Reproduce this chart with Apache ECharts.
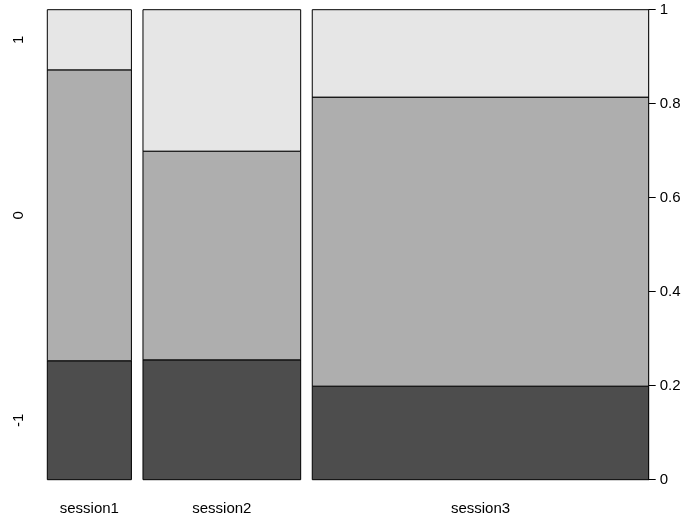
<!DOCTYPE html>
<html>
<head>
<meta charset="utf-8">
<title>Spineplot by session</title>
<script src="https://cdn.jsdelivr.net/npm/echarts@6/dist/echarts.min.js"></script>
<style>
  html, body { margin: 0; padding: 0; background: #fff; }
  #chart { width: 691px; height: 519px; }
</style>
</head>
<body>
<div id="chart"></div>
<script>
// Sessions on the x axis, response levels stacked inside each spine
const categories = ['session1', 'session2', 'session3'];
const levels = ['-1', '0', '1'];
// Observations per session (sets each spine's width)
const sessionCounts = [8, 15, 32];
// Conditional share of each level within a session
const shareMinus1 = [0.253, 0.255, 0.199];
const shareZero   = [0.619, 0.444, 0.615];
const shareOne    = [0.128, 0.301, 0.186];
// Right-hand proportion axis ticks
const yTicks = [0, 0.2, 0.4, 0.6, 0.8, 1];

const levelColors = ['#4D4D4D', '#AEAEAE', '#E6E6E6'];
const gap = 0.02;

const total = sessionCounts.reduce((a, b) => a + b, 0);
const shares = [shareMinus1, shareZero, shareOne];

// One rectangle per (session, level): [x0, x1, y0, y1, levelIndex]
const rects = [];
const centers = [];
let xStart = 0;
categories.forEach((cat, i) => {
  const w = sessionCounts[i] / total;
  const x0 = xStart, x1 = xStart + w;
  centers.push((x0 + x1) / 2);
  let yAcc = 0;
  levels.forEach((lv, j) => {
    const h = shares[j][i];
    rects.push([x0, x1, yAcc, yAcc + h, j]);
    yAcc += h;
  });
  xStart = x1 + gap;
});
const xMax = xStart - gap;

// Level labels sit at the middle of each segment of the first spine
const levelMids = [];
{
  let acc = 0;
  levels.forEach((lv, j) => {
    const h = shares[j][0];
    levelMids.push(acc + h / 2);
    acc += h;
  });
}

const font = 'Liberation Sans, Arial, Helvetica, sans-serif';
const fs = 15;

const chart = echarts.init(document.getElementById('chart'), null, { renderer: 'canvas' });
chart.setOption({
  animation: false,
  backgroundColor: '#fff',
  grid: { left: 47.3, right: 42.3, top: 9.7, bottom: 39.3, containLabel: false },
  xAxis: {
    type: 'value',
    min: 0,
    max: xMax,
    axisLine: { show: false },
    axisTick: { show: false },
    splitLine: { show: false },
    axisLabel: {
      customValues: centers,
      margin: 22,
      color: '#000',
      fontSize: fs,
      fontFamily: font,
      formatter: function (v) {
        let best = 0;
        centers.forEach((c, k) => { if (Math.abs(c - v) < Math.abs(centers[best] - v)) best = k; });
        return categories[best];
      }
    }
  },
  yAxis: [
    {
      type: 'value',
      position: 'right',
      min: yTicks[0],
      max: yTicks[yTicks.length - 1],
      interval: yTicks[1] - yTicks[0],
      axisLine: { show: true, onZero: false, lineStyle: { color: '#000', width: 1 } },
      axisTick: {
        show: true,
        inside: false,
        length: 7,
        lineStyle: { color: '#000', width: 1 }
      },
      splitLine: { show: false },
      axisLabel: {
        margin: 11,
        color: '#000',
        fontSize: fs,
        fontFamily: font,
        formatter: v => String(+v.toFixed(1))
      }
    },
    {
      type: 'value',
      position: 'left',
      min: 0,
      max: 1,
      axisLine: { show: false },
      axisTick: { show: false },
      splitLine: { show: false },
      axisLabel: {
        customValues: levelMids,
        rotate: 90,
        margin: 21,
        color: '#000',
        fontSize: fs,
        fontFamily: font,
        formatter: function (v) {
          let best = 0;
          levelMids.forEach((m, k) => { if (Math.abs(m - v) < Math.abs(levelMids[best] - v)) best = k; });
          return levels[best];
        }
      }
    }
  ],
  series: [{
    type: 'custom',
    coordinateSystem: 'cartesian2d',
    xAxisIndex: 0,
    yAxisIndex: 0,
    data: rects,
    renderItem: function (params, api) {
      const x0 = api.value(0), x1 = api.value(1);
      const y0 = api.value(2), y1 = api.value(3);
      const lvl = api.value(4);
      const tl = api.coord([x0, y1]);
      const br = api.coord([x1, y0]);
      return {
        type: 'rect',
        shape: { x: tl[0], y: tl[1], width: br[0] - tl[0], height: br[1] - tl[1] },
        style: { fill: levelColors[lvl], stroke: '#000', lineWidth: 1 }
      };
    }
  }]
});
</script>
</body>
</html>
